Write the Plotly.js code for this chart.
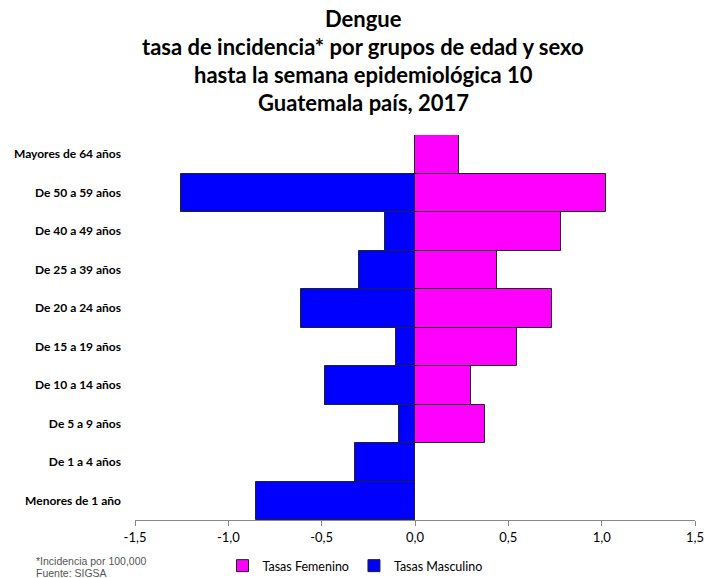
<!DOCTYPE html>
<html>
<head>
<meta charset="utf-8">
<script src="https://cdn.plot.ly/plotly-3.0.1.min.js"></script>
<style>html,body{margin:0;padding:0;background:#fff;}#chart{width:706px;height:578px;}</style>
</head>
<body>
<div id="chart"></div>
<script>
const categories = ["Menores de 1 año","De 1 a 4 años","De 5 a 9 años","De 10 a 14 años","De 15 a 19 años","De 20 a 24 años","De 25 a 39 años","De 40 a 49 años","De 50 a 59 años","Mayores de 64 años"];
const femenino = [0, 0, 0.376, 0.301, 0.548, 0.733, 0.439, 0.782, 1.022, 0.237];
const masculino = [-0.851, -0.323, -0.088, -0.480, -0.104, -0.609, -0.299, -0.161, -1.256, 0];
const tickVals = [-1.5, -1.0, -0.5, 0, 0.5, 1.0, 1.5];
const tickText = ["-1,5", "-1,0", "-0,5", "0,0", "0,5", "1,0", "1,5"];
const titleLines = ["Dengue", "tasa de incidencia* por grupos de edad y sexo", "hasta la semana epidemiológica 10", "Guatemala país, 2017"];
const footnote = ["*Incidencia por 100,000", "Fuente: SIGSA"];

const font = "Lato, Calibri, 'Open Sans', sans-serif";
const traces = [
  {type:'bar', orientation:'h', name:'Tasas Femenino', y:categories, x:femenino,
   marker:{color:'#FF00FF', line:{color:'#222222', width:1}}},
  {type:'bar', orientation:'h', name:'Tasas Masculino', y:categories, x:masculino,
   marker:{color:'#0000FF', line:{color:'#222222', width:1}}}
];
// plot area: y pixels 135..520, x pixels 135..695
const plotTop = 135, plotBot = 520, plotLeft = 135, plotRight = 695;
const py = p => (plotBot - p) / (plotBot - plotTop);
const px = p => (p - plotLeft) / (plotRight - plotLeft);
const titleY = [18, 46, 75, 103];
const annotations = titleLines.map((t, i) => ({
  text: t, xref:'paper', yref:'paper', x:px(363), y:py(titleY[i]), xanchor:'center', yanchor:'middle',
  showarrow:false, font:{family:font, size:22, color:'#000', weight:'bold'}
}));
const footY = [561, 573];
footnote.forEach((t, i) => annotations.push({
  text: t, xref:'paper', yref:'paper', x:px(34), y:py(footY[i]), xanchor:'left', yanchor:'middle',
  showarrow:false, align:'left', font:{family:"'Liberation Sans Narrow', 'Liberation Sans', Arial, sans-serif", size:10.5, color:'#555555'}
}));

const layout = {
  width:706, height:578,
  paper_bgcolor:'#ffffff', plot_bgcolor:'#ffffff',
  margin:{l:plotLeft, r:706 - plotRight, t:plotTop, b:578 - plotBot, autoexpand:false},
  barmode:'relative', bargap:0,
  showlegend:true,
  xaxis:{range:[-1.5,1.5], tickvals:tickVals, ticktext:tickText, showgrid:false, zeroline:false,
         showline:true, linecolor:'#888888', linewidth:1, ticks:'outside', ticklen:5, tickcolor:'#888888',
         tickfont:{family:font, size:13, color:'#000'}},
  yaxis:{type:'category', showgrid:false, zeroline:false, showline:false, ticks:'', ticklabelstandoff:13,
         tickfont:{family:font, size:12, color:'#000', weight:'bold'}},
  legend:{orientation:'h', x:px(355), xanchor:'center', y:py(566), yanchor:'middle',
          font:{family:font, size:12.5, color:'#000'}, itemwidth:30, traceorder:'normal'},
  annotations: annotations
};
Plotly.newPlot('chart', traces, layout, {displayModeBar:false});
</script>
</body>
</html>
